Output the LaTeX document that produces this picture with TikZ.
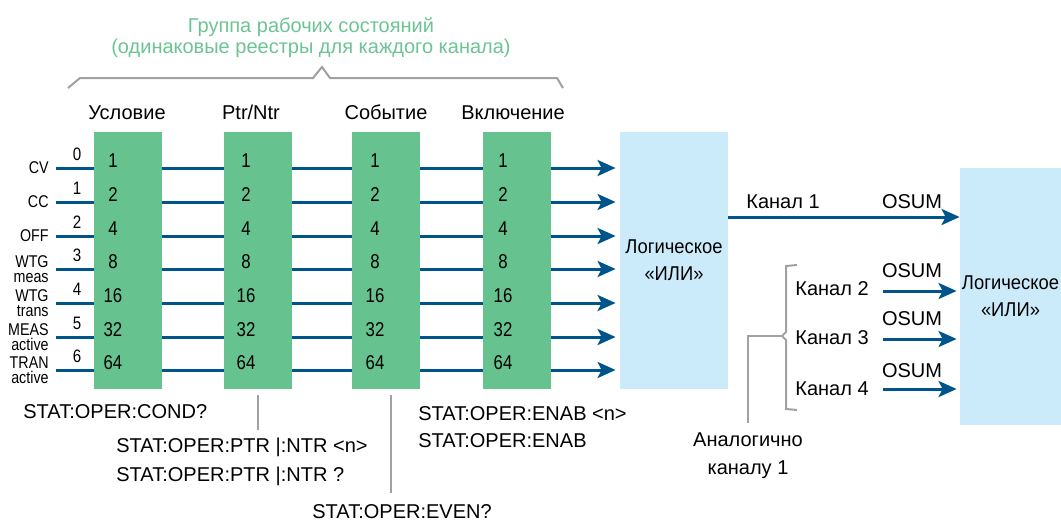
\documentclass[tikz,border=0pt]{standalone}
\usepackage{fontspec}
\setmainfont{Liberation Sans}
\newfontfamily\narrowsans[FakeStretch=0.84]{Liberation Sans}
\newfontfamily\orsans[FakeStretch=0.92]{Liberation Sans}
\usetikzlibrary{arrows.meta}
\usepackage{xcolor}

\definecolor{regGreen}{RGB}{102,194,142}
\definecolor{orBlue}{RGB}{204,235,250}
\definecolor{sigBlue}{RGB}{0,84,140}
\definecolor{braceGray}{RGB}{160,160,165}
\definecolor{titleGreen}{RGB}{108,196,148}

\begin{document}
\begin{tikzpicture}[x=0.5pt, y=-0.5pt,
    every node/.style={
        inner sep=0pt,
        font=\fontsize{10}{14}\selectfont
    },
    reg/.style={rectangle, fill=regGreen, minimum width=34pt, minimum height=128.5pt},
    orbox/.style={rectangle, fill=orBlue, align=center, minimum height=128.5pt,
        font=\orsans\fontsize{10}{13.5}\selectfont},
    num/.style={anchor=base, font=\narrowsans\fontsize{10}{12}\selectfont},
    bitlab/.style={anchor=east, align=right, font=\narrowsans\fontsize{8.5}{7.5}\selectfont},
    sig/.style={draw=sigBlue, line width=1.5pt},
    sigarrow/.style={sig, -{Stealth[length=9pt, width=8pt, inset=2pt]}},
    bracket/.style={draw=braceGray, line width=1pt}
]
    \useasboundingbox (0, 0) rectangle (1061, 520);

    \node (group_title) [anchor=north, align=center, text=titleGreen,
        font=\fontsize{10}{10.5}\selectfont, shift={(311, 17.5)}]
    {
        Группа рабочих состояний\\
        (одинаковые реестры для каждого канала)
    };
    \draw[bracket] (68, 88) -- (80, 78) -- (313, 78) -- (322, 67) -- (330, 78) -- (557, 78) -- (563, 88);



    \node (cond_title) [anchor=base, shift={(127, 119)}] {Условие};
    \node (ptr_title) [anchor=base, shift={(251, 119)}] {Ptr/Ntr};
    \node (even_title) [anchor=base, shift={(386, 119)}] {Событие};
    \node (enab_title) [anchor=base, shift={(513, 119)}] {Включение};



    \node (cond_reg) [reg, shift={(128, 260.5)}] {};
    \node (ptr_reg) [reg, shift={(258, 260.5)}] {};
    \node (even_reg) [reg, shift={(386, 260.5)}] {};
    \node (enab_reg) [reg, shift={(517, 260.5)}] {};

    \node (or_chan) [orbox, minimum width=54pt, shift={(674, 260.5)}]
    {
        Логическое\\
        «ИЛИ»
    };
    \node (or_summ) [orbox, minimum width=50.5pt, shift={(1010.5, 296.5)}]
    {
        Логическое\\
        «ИЛИ»
    };



    \foreach \y/\bit/\val/\lab [count=\i] in {168/0/1/CV, 202/1/2/CC, 236/2/4/OFF,
        269/3/8/{WTG\\meas}, 303/4/16/{WTG\\trans}, 337/5/32/{MEAS\\active}, 370/6/64/{TRAN\\active}}
    {
        \coordinate (row_\i) at (56, \y);
        \node (lab_\i) [bitlab, shift={(49, \y)}] {\lab};
        \node (bit_\i) [num, font=\narrowsans\fontsize{9}{10}\selectfont, shift={(77, \y-8)}] {\bit};

        \node (cond_val_\i) [num, shift={(113, \y-1)}] {\val};
        \node (ptr_val_\i) [num, shift={(246, \y-1)}] {\val};
        \node (even_val_\i) [num, shift={(375, \y-1)}] {\val};
        \node (enab_val_\i) [num, shift={(503, \y-1)}] {\val};

        \draw[sig] (row_\i) -- (cond_reg.west |- row_\i);
        \draw[sig] (cond_reg.east |- row_\i) -- (ptr_reg.west |- row_\i);
        \draw[sig] (ptr_reg.east |- row_\i) -- (even_reg.west |- row_\i);
        \draw[sig] (even_reg.east |- row_\i) -- (enab_reg.west |- row_\i);
        \draw[sigarrow, shorten >=2pt] (enab_reg.east |- row_\i) -- (or_chan.west |- row_\i);
    }



    \node (chan1_lab) [anchor=base, shift={(783, 208)}] {Канал 1};
    \node (osum1_lab) [anchor=base, shift={(912, 208)}] {OSUM};
    \node (chan2_lab) [anchor=base, shift={(832, 295)}] {Канал 2};
    \node (osum2_lab) [anchor=base, shift={(912, 277)}] {OSUM};
    \node (chan3_lab) [anchor=base, shift={(832, 344)}] {Канал 3};
    \node (osum3_lab) [anchor=base, shift={(912, 325)}] {OSUM};
    \node (chan4_lab) [anchor=base, shift={(832, 395)}] {Канал 4};
    \node (osum4_lab) [anchor=base, shift={(912, 377)}] {OSUM};

    \coordinate (chan1_out) at (or_chan.east |- 0, 217);
    \coordinate (chan2_out) at (883, 291);
    \coordinate (chan3_out) at (883, 339);
    \coordinate (chan4_out) at (883, 389);

    \draw[sigarrow] (chan1_out) -- (or_summ.west |- chan1_out);
    \draw[sigarrow, shorten >=1.5pt] (chan2_out) -- (or_summ.west |- chan2_out);
    \draw[sigarrow, shorten >=1.5pt] (chan3_out) -- (or_summ.west |- chan3_out);
    \draw[sigarrow, shorten >=1.5pt] (chan4_out) -- (or_summ.west |- chan4_out);



    \node (analog_note) [anchor=north, align=center, shift={(748, 432)}]
    {
        Аналогично\\
        каналу 1
    };
    \coordinate (brace_tip) at (782, 336);
    \draw[bracket] (797, 265) -- (786, 266) -- (786, 332) -- (brace_tip) -- (786, 340) -- (786, 409) -- (797, 410);
    \draw[bracket, shorten <=4.5pt] (analog_note.north) |- (brace_tip);



    \node (cond_cmd) [anchor=base west, shift={(23, 418)}] {STAT:OPER:COND?};
    \node (ptr_cmd_set) [anchor=base west, shift={(116, 452)}] {STAT:OPER:PTR |:NTR <n>};
    \node (ptr_cmd_query) [anchor=base west, shift={(116, 481)}] {STAT:OPER:PTR |:NTR ?};
    \node (even_cmd) [anchor=base west, shift={(312, 518)}] {STAT:OPER:EVEN?};
    \node (enab_cmd_set) [anchor=base west, shift={(418, 420)}] {STAT:OPER:ENAB <n>};
    \node (enab_cmd_query) [anchor=base west, shift={(418, 447)}] {STAT:OPER:ENAB};

    \draw[bracket, shorten <=3pt, shorten >=3.5pt] (ptr_reg.south) -- (ptr_reg.south |- ptr_cmd_set.north);
    \draw[bracket, shorten <=3pt, shorten >=5.5pt] ([xshift=2.5pt]even_reg.south) -- ([xshift=2.5pt]even_reg.south |- even_cmd.north);


\end{tikzpicture}
\end{document}
